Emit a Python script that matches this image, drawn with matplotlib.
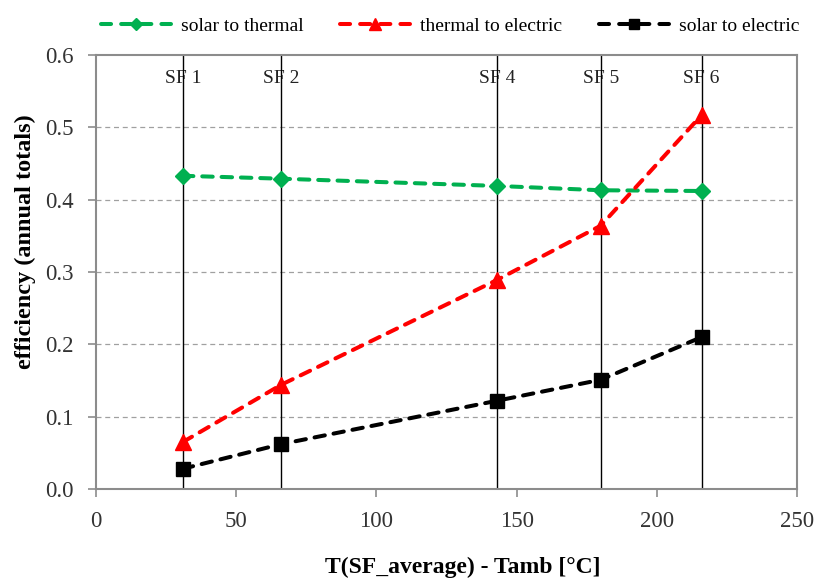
import matplotlib.pyplot as plt
import numpy as np

# solar field cases: mean field temperature above ambient
sf_labels = ["SF 1", "SF 2", "SF 4", "SF 5", "SF 6"]
dT = [31, 66, 143, 180, 216]

solar_to_thermal = [0.433, 0.429, 0.419, 0.413, 0.412]
thermal_to_electric = [0.065, 0.144, 0.289, 0.364, 0.517]
solar_to_electric = [0.028, 0.062, 0.122, 0.151, 0.210]

plt.rcParams['font.family'] = ['Liberation Serif', 'DejaVu Serif']

fig = plt.figure(figsize=(8.2, 5.86), dpi=100)
ax = fig.add_axes([96 / 820, 1 - 489 / 586, 701 / 820, 434 / 586])

grey = '#8c8c8c'
for y in np.arange(0.1, 0.55, 0.1):
    ax.axhline(y, color='#a0a0a0', lw=0.9, ls=(0, (4, 3)), zorder=0)

# vertical marker lines for each solar field case, label sits on the line
for x, lab in zip(dT, sf_labels):
    ax.text(x, 0.567, lab, ha='center', va='center', fontsize=14, color='#222222', zorder=1)
    ax.axvline(x, color='black', lw=1.0, zorder=2)

dash = (0, (2.6, 2.2))
style = dict(ls=dash, lw=2.9, dash_capstyle='round')
ax.plot(dT, solar_to_thermal, color='#00b050', marker='D', ms=8.5,
        label='solar to thermal', zorder=3, **style)
ax.plot(dT, thermal_to_electric, color='#ff0000', marker='^', ms=12,
        label='thermal to electric', zorder=3, **style)
ax.plot(dT, solar_to_electric, color='black', marker='s', ms=10,
        label='solar to electric', zorder=4, **style)

ax.set_xlim(0, 250)
ax.set_ylim(0, 0.6)
ax.set_xticks(np.arange(0, 251, 50))
ax.set_yticks(np.arange(0, 0.61, 0.1))
ax.set_yticklabels([f"{v:.1f}" for v in np.arange(0, 0.61, 0.1)])
ax.tick_params(direction='out', length=6, width=1.2, color=grey,
               labelsize=16.5, labelcolor='#333333')
ax.tick_params(axis='y', pad=10)
ax.tick_params(axis='x', pad=10)
for s in ax.spines.values():
    s.set_color(grey)
    s.set_linewidth(1.5)

# axis titles placed as in the workbook chart (slightly off the plot centre)
fig.text(463 / 820, 1 - 567 / 586, 'T(SF_average) - Tamb [°C]', fontsize=17,
         fontweight='bold', ha='center', va='center')
fig.text(25 / 820, 1 - 242 / 586, 'efficiency (annual totals)', fontsize=17.5,
         fontweight='bold', ha='center', va='center', rotation=90)

leg = fig.legend(loc='upper center', bbox_to_anchor=(0.549, 1.0), ncol=3, frameon=False,
                 fontsize=14, handlelength=3.6, columnspacing=1.9, handletextpad=0.5,
                 markerscale=0.7)
for h in leg.legend_handles:
    h.set_linestyle((0, (2.5, 2.5)))

fig.savefig('out.png', dpi=100)
